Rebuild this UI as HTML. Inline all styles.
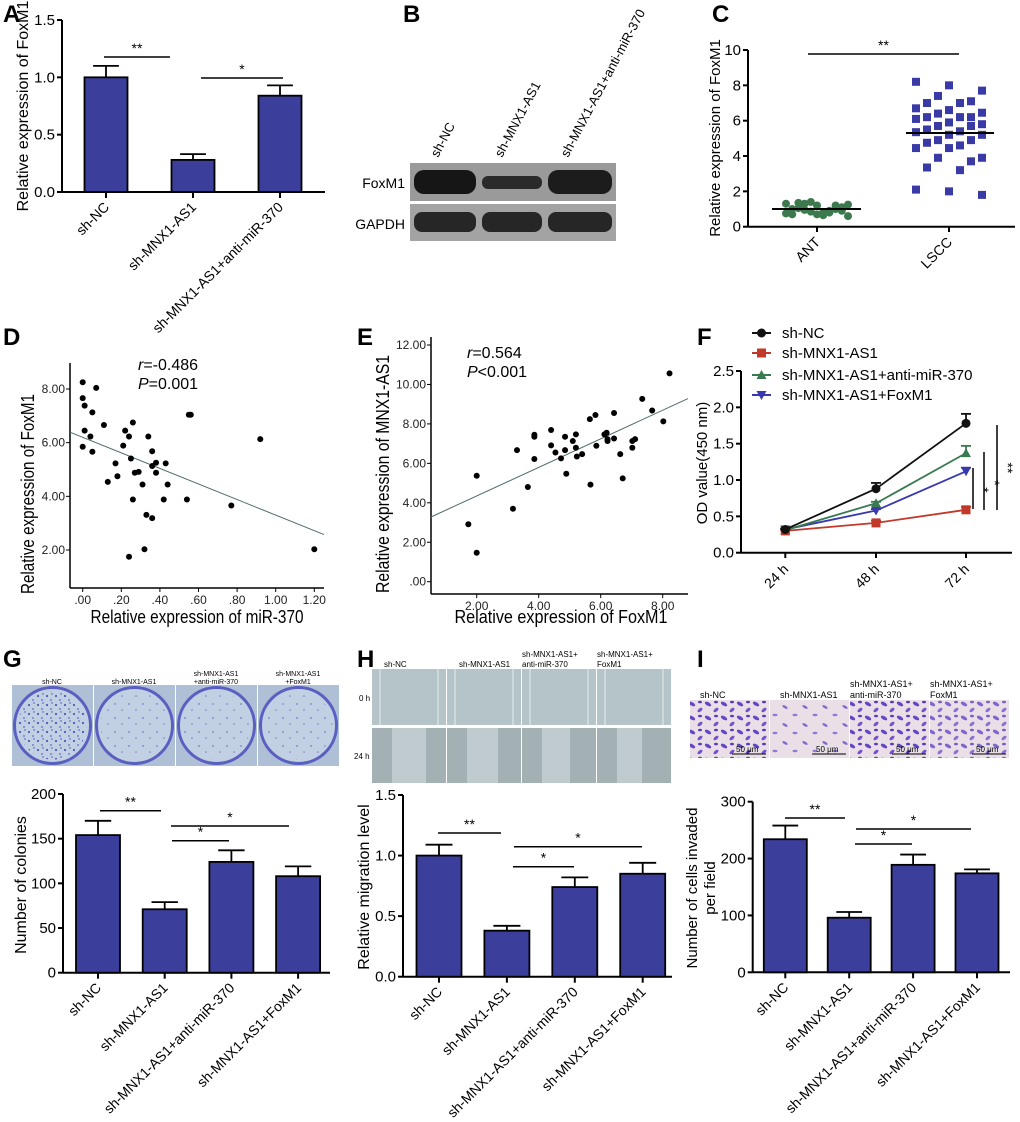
<!DOCTYPE html>
<html><head><meta charset="utf-8"><style>
html,body{margin:0;padding:0;background:#fff;}
svg{display:block;font-family:"Liberation Sans",Arial,sans-serif;}
</style></head><body>
<svg id="fig" width="1020" height="1122" viewBox="0 0 1020 1122" xmlns="http://www.w3.org/2000/svg">
<defs>
<pattern id="colPat" width="9" height="9" patternUnits="userSpaceOnUse"><circle cx="2" cy="3" r="1.1" fill="#4a48b0"/><circle cx="6" cy="7" r="0.9" fill="#5a58c0"/><circle cx="7" cy="1" r="0.7" fill="#3d3aa8"/></pattern>
<pattern id="colPatSparse" width="14" height="14" patternUnits="userSpaceOnUse"><circle cx="3" cy="4" r="0.9" fill="#5a58c0"/><circle cx="10" cy="10" r="0.8" fill="#5a58c0"/></pattern>
<pattern id="cellPat" width="16" height="14" patternUnits="userSpaceOnUse"><ellipse cx="4" cy="4" rx="3.5" ry="1.8" fill="#5b3fc4" transform="rotate(30 4 4)"/><ellipse cx="12" cy="10" rx="3" ry="1.6" fill="#6a4ccc" transform="rotate(-40 12 10)"/><ellipse cx="12" cy="2" rx="2" ry="1.3" fill="#4b35b0"/></pattern>
<pattern id="cellPatSparse" width="20" height="18" patternUnits="userSpaceOnUse"><ellipse cx="5" cy="5" rx="3" ry="1.3" fill="#7a66cc" transform="rotate(30 5 5)"/><ellipse cx="15" cy="13" rx="2.5" ry="1.2" fill="#8676d2"/></pattern>
</defs>
<g id="root"></g>
</svg>
<script>
// ---------- DATA ----------
const aCats = ["sh-NC","sh-MNX1-AS1","sh-MNX1-AS1+anti-miR-370"];
const aVals = [1.0, 0.28, 0.84];
const aErrs = [0.10, 0.05, 0.09];
const aTicks = ["0.0","0.5","1.0","1.5"];

const cCats = ["ANT","LSCC"];
const cAnt = [1.3,1.2,1.25,1.4,1.1,1.3,1.2,1.35,0.9,1.0,0.8,0.75,0.7,0.6,0.85,0.9,0.95,1.0,1.05,0.8,0.7,0.65];
const cLscc = [8.2,8.0,7.7,7.4,7.1,7.0,7.0,6.7,6.6,6.45,6.4,6.2,6.2,6.2,6.1,5.9,5.8,5.7,5.7,5.5,5.4,5.35,5.2,5.2,4.9,4.9,4.75,4.6,4.45,4.45,3.9,3.9,3.7,3.35,3.2,2.1,2.0,1.8];
const cMeans = [1.0, 5.3];
const cTicks = ["0","2","4","6","8","10"];

const dX = [0.00,0.00,0.01,0.07,0.05,0.11,0.01,0.04,0.00,0.05,0.22,0.24,0.26,0.21,0.17,0.18,0.13,0.25,0.27,0.29,0.34,0.36,0.36,0.38,0.38,0.43,0.44,0.31,0.26,0.42,0.33,0.36,0.32,0.24,0.54,0.55,0.56,0.77,0.92,1.20];
const dY = [8.25,7.66,7.38,8.04,7.13,6.66,6.45,6.23,5.85,5.66,6.45,6.23,6.75,5.89,5.23,4.75,4.54,5.41,4.88,4.91,6.23,5.68,5.13,5.25,4.88,5.23,4.44,4.44,3.88,3.88,3.31,3.19,2.03,1.75,3.88,7.04,7.04,3.66,6.13,2.03];
const dFit = [6.2, -2.9];
const dXTicks = [".00",".20",".40",".60",".80","1.00","1.20"];
const dYTicks = ["2.00","4.00","6.00","8.00"];

const eX = [1.73,2.0,2.0,3.17,3.30,3.65,3.86,3.86,3.86,4.40,4.40,4.54,4.72,4.85,4.85,4.89,5.10,5.20,5.20,5.23,5.40,5.65,5.83,5.67,5.86,6.12,6.19,6.22,6.22,6.43,6.43,6.63,6.71,7.02,7.02,7.11,7.34,7.66,8.02,8.22];
const eY = [2.91,1.47,5.37,3.70,6.67,4.80,7.45,7.35,6.22,7.69,6.91,6.55,6.25,7.35,6.67,5.47,7.13,7.47,6.79,6.35,6.47,8.24,8.45,4.92,6.89,7.47,7.55,7.23,7.13,7.26,8.55,6.47,5.24,6.79,7.13,7.23,9.27,8.68,8.13,10.56];
const eFit = [2.90, 0.724];
const eXTicks = ["2.00","4.00","6.00","8.00"];
const eYTicks = [".00","2.00","4.00","6.00","8.00","10.00","12.00"];

const fTimes = ["24 h","48 h","72 h"];
const fSeries = ["sh-NC","sh-MNX1-AS1","sh-MNX1-AS1+anti-miR-370","sh-MNX1-AS1+FoxM1"];
const fNC = [0.32,0.88,1.78];
const fSh = [0.30,0.41,0.59];
const fAnti = [0.31,0.68,1.37];
const fFox = [0.32,0.58,1.12];
const fNCErr = [0.01,0.08,0.13];
const fShErr = [0.01,0.03,0.04];
const fAntiErr = [0.01,0.02,0.10];
const fFoxErr = [0.01,0.02,0.05];
const fTicks = ["0.0","0.5","1.0","1.5","2.0","2.5"];

const g4Cats = ["sh-NC","sh-MNX1-AS1","sh-MNX1-AS1+anti-miR-370","sh-MNX1-AS1+FoxM1"];
const gVals = [154,71,124,108];
const gErrs = [16,8,13,11];
const gTicks = ["0","50","100","150","200"];
const hVals = [1.0,0.38,0.74,0.85];
const hErrs = [0.09,0.04,0.08,0.09];
const hTicks = ["0.0","0.5","1.0","1.5"];
const iVals = [234,96,189,174];
const iErrs = [24,10,18,7];
const iTicks = ["0","100","200","300"];

// ---------- HELPERS ----------
const NS="http://www.w3.org/2000/svg";
const root=document.getElementById('root');
function el(tag,attrs,parent,text){const e=document.createElementNS(NS,tag);for(const k in attrs)e.setAttribute(k,attrs[k]);if(text!==undefined)e.textContent=text;(parent||root).appendChild(e);return e;}
function line(x1,y1,x2,y2,p,w,c){return el('line',{x1,y1,x2,y2,stroke:c||'#000','stroke-width':w||1.5},p);}
function letter(ch,x,y){const t=el('text',{x,y,'font-size':24,'font-weight':'bold'},root,ch);

}
function lin(d0,d1,p0,p1){return v=>p0+(v-d0)*(p1-p0)/(d1-d0);}
function sig(g,x1,x2,y,txt){line(x1,y,x2,y,g,1.5);el('text',{x:(x1+x2)/2,y:y-4,'text-anchor':'middle','font-size':14},g,txt);}

function barChart(cfg){
  const g=el('g',{});
  
  
  const y=lin(cfg.ymin,cfg.ymax,cfg.y0,cfg.y1);
  line(cfg.ax,cfg.y1,cfg.ax,cfg.y0,g,2);
  cfg.ticks.forEach(t=>{const v=parseFloat(t);const yy=y(v);line(cfg.ax-5,yy,cfg.ax,yy,g,2);
    const tl=el('text',{x:cfg.ax-7,y:yy+5,'text-anchor':'end','font-size':cfg.tfs||15},g,t);
    
    });
  line(cfg.ax,cfg.y0,cfg.xend,cfg.y0,g,2);
  cfg.vals.forEach((v,i)=>{const cx=cfg.cx0+i*cfg.step;const top=y(v);
    const r=el('rect',{x:cx-cfg.bw/2,y:top,width:cfg.bw,height:cfg.y0-top,fill:'#3b3e9b',stroke:'#000','stroke-width':1.8},g);
    
    
    const ey=y(v+cfg.errs[i]);line(cx,top,cx,ey,g,1.8);line(cx-cfg.bw*0.3,ey,cx+cfg.bw*0.3,ey,g,1.8);
    line(cx,cfg.y0,cx,cfg.y0+6,g,2);
    const lb=el('text',{x:cx+4,y:cfg.y0+16,'text-anchor':'end','font-size':cfg.lfs||14,transform:`rotate(-45 ${cx+4} ${cfg.y0+16})`},g,cfg.cats[i]);
    
    
  });
  (cfg.titles).forEach((t,k)=>{const tx=cfg.tx+k*18;const tt=el('text',{x:tx,y:cfg.ty,'text-anchor':'middle','font-size':cfg.yfs||16,transform:`rotate(-90 ${tx} ${cfg.ty})`},g,t);
    
    });
  cfg.sigs.forEach(s=>sig(g,s[0],s[1],s[2],s[3]));
  return g;
}

// ---------- PANEL A ----------
letter('A',3,22);
barChart({name:'panel-a-chart',ymin:0,ymax:1.5,y0:192,y1:20,ax:62,xend:325,cx0:106,step:87,bw:43,vals:aVals,errs:aErrs,cats:aCats,ticks:aTicks,titles:['Relative expression of FoxM1'],tx:28,ty:106,sigs:[[104,170,57,'**'],[201,283,78,'*']]});

// ---------- PANEL B (western blot) ----------
letter('B',403,22);
(function(){
  const g=el('g',{});
  
  
  const labs=["sh-NC","sh-MNX1-AS1","sh-MNX1-AS1+anti-miR-370"];const lx=[438,502,568];
  labs.forEach((t,i)=>{const tt=el('text',{x:lx[i],y:158,'font-size':13,transform:`rotate(-62 ${lx[i]} 158)`},g,t);
    
    });
  el('rect',{x:410,y:163,width:206,height:38,fill:'#9a9a9a'},g);
  el('rect',{x:410,y:204,width:206,height:37,fill:'#a3a3a3'},g);
  el('rect',{x:414,y:170,width:62,height:24,rx:10,fill:'#161616'},g);
  el('rect',{x:482,y:176,width:60,height:13,rx:6,fill:'#2a2a2a'},g);
  el('rect',{x:548,y:170,width:64,height:24,rx:10,fill:'#1c1c1c'},g);
  el('rect',{x:414,y:212,width:62,height:20,rx:8,fill:'#262626'},g);
  el('rect',{x:482,y:212,width:60,height:20,rx:8,fill:'#262626'},g);
  el('rect',{x:548,y:212,width:64,height:20,rx:8,fill:'#262626'},g);
  el('text',{x:405,y:188,'text-anchor':'end','font-size':14},g,'FoxM1');
  el('text',{x:405,y:229,'text-anchor':'end','font-size':14},g,'GAPDH');
})();

// ---------- PANEL C ----------
letter('C',712,22);
(function(){
  const g=el('g',{});
  
  
  const y=lin(0,10,226.7,50);const ax=748;
  line(ax,50,ax,226.7,g,2);line(ax,226.7,1015,226.7,g,2);
  cTicks.forEach(t=>{const yy=y(+t);line(ax-5,yy,ax,yy,g,2);el('text',{x:ax-7,y:yy+5,'text-anchor':'end','font-size':15},g,t);});
  const cxs=[817,949];
  cCats.forEach((c,i)=>{line(cxs[i],226.7,cxs[i],232,g,2);
    const t=el('text',{x:cxs[i]+4,y:243,'text-anchor':'end','font-size':14,transform:`rotate(-45 ${cxs[i]+4} 243)`},g,c);
    
    });
  cAnt.forEach((v,i)=>{const dx=((i*5)%11-5)*6.2;
    const c=el('circle',{cx:cxs[0]+dx,cy:y(v),r:4,fill:'#3c7a4e'},g);
    
    });
  cLscc.forEach((v,i)=>{const dx=((i*3)%7-3)*11;
    const r=el('rect',{x:cxs[1]+dx-4,y:y(v)-4,width:8,height:8,fill:'#3a3aa6'},g);
    
    });
  line(772,y(cMeans[0]),861,y(cMeans[0]),g,2);
  line(906,y(cMeans[1]),994,y(cMeans[1]),g,2);
  sig(g,808,959,54,'**');
  const tt=el('text',{x:720,y:138,'text-anchor':'middle','font-size':15,transform:'rotate(-90 720 138)'},g,'Relative expression of FoxM1');
  
  
})();

// ---------- SCATTER D / E ----------
function regScatter(cfg){
  const g=el('g',{});
  
  
  const x=lin(cfg.xd[0],cfg.xd[1],cfg.xp[0],cfg.xp[1]);const y=lin(cfg.yd[0],cfg.yd[1],cfg.yp[0],cfg.yp[1]);
  line(cfg.ax,cfg.top,cfg.ax,cfg.ay,g,1.5);line(cfg.ax,cfg.ay,cfg.xend,cfg.ay,g,1.5);
  cfg.yt.forEach(t=>{const yy=y(parseFloat(t));line(cfg.ax-4,yy,cfg.ax,yy,g,1);el('text',{x:cfg.ax-5,y:yy+4,'text-anchor':'end','font-size':12,fill:'#222'},g,t);});
  cfg.xt.forEach(t=>{const xx=x(parseFloat(t));line(xx,cfg.ay,xx,cfg.ay+4,g,1);el('text',{x:xx,y:cfg.ay+16,'text-anchor':'middle','font-size':12,fill:'#222'},g,t);});
  const xa=cfg.xinv(cfg.ax),xb=cfg.xinv(cfg.xend);
  line(cfg.ax,y(cfg.fit[0]+cfg.fit[1]*xa),cfg.xend,y(cfg.fit[0]+cfg.fit[1]*xb),g,1,'#4f6b6b');
  cfg.X.forEach((v,i)=>{const c=el('circle',{cx:x(v),cy:y(cfg.Y[i]),r:3,fill:'#000'},g);
    
    });
  const s1=el('text',{x:cfg.sx,y:cfg.sy,'font-size':16},g);el('tspan',{'font-style':'italic'},s1,'r');el('tspan',{},s1,cfg.s1);
  const s2=el('text',{x:cfg.sx,y:cfg.sy+19,'font-size':16},g);el('tspan',{'font-style':'italic'},s2,'P');el('tspan',{},s2,cfg.s2);
  const xt=el('text',{x:cfg.xtx,y:cfg.xty,'text-anchor':'middle','font-size':18,textLength:213,lengthAdjust:'spacingAndGlyphs'},g,cfg.xtitle);
  
  
  const yt=el('text',{x:cfg.ytx,y:cfg.yty,'text-anchor':'middle','font-size':18,textLength:cfg.ytl,lengthAdjust:'spacingAndGlyphs',transform:`rotate(-90 ${cfg.ytx} ${cfg.yty})`},g,cfg.ytitle);
  
  
}
letter('D',3,345);
regScatter({name:'panel-d-scatter',X:dX,Y:dY,fit:dFit,xd:[0,1.2],xp:[82.7,314.3],yd:[2,8],yp:[550,389],ax:70,ay:588,top:363,xend:324,
  xinv:p=>(p-82.7)/(314.3-82.7)*1.2,xt:dXTicks,yt:dYTicks,sx:138,sy:370,s1:'=-0.486',s2:'=0.001',
  xtitle:'Relative expression of miR-370',xtx:197,xty:623,ytitle:'Relative expression of FoxM1',ytx:34,yty:494,ytl:200});
letter('E',357,345);
regScatter({name:'panel-e-scatter',X:eX,Y:eY,fit:eFit,xd:[2,8],xp:[476.7,662.7],yd:[0,12],yp:[581.7,345],ax:431,ay:594,top:337,xend:688,
  xinv:p=>2+(p-476.7)/31,xt:eXTicks,yt:eYTicks,sx:467,sy:358,s1:'=0.564',s2:'<0.001',
  xtitle:'Relative expression of FoxM1',xtx:561,xty:623,ytitle:'Relative expression of MNX1-AS1',ytx:389,yty:474,ytl:238});

// ---------- PANEL F ----------
letter('F',697,345);
(function(){
  const g=el('g',{});
  
  
  const y=lin(0,2.5,552.7,371);const ax=741;const xs=[785.3,876,966];
  line(ax,371,ax,552.7,g,2);line(ax,552.7,1012,552.7,g,2);
  fTicks.forEach(t=>{const yy=y(+t);line(ax-5,yy,ax,yy,g,2);el('text',{x:ax-7,y:yy+5,'text-anchor':'end','font-size':15},g,t);});
  fTimes.forEach((t,i)=>{line(xs[i],552.7,xs[i],558,g,2);el('text',{x:xs[i]+4,y:570,'text-anchor':'end','font-size':14,transform:`rotate(-45 ${xs[i]+4} 570)`},g,t);});
  const series=[[fNC,fNCErr,'#111','circle'],[fSh,fShErr,'#c0392b','square'],[fAnti,fAntiErr,'#3a7a50','tri'],[fFox,fFoxErr,'#3838b0','itri']];
  function marker(gg,x0,y0,shape,c){
    if(shape==='circle')return el('circle',{cx:x0,cy:y0,r:4.5,fill:c},gg);
    if(shape==='square')return el('rect',{x:x0-4.5,y:y0-4.5,width:9,height:9,fill:c},gg);
    if(shape==='tri')return el('polygon',{points:`${x0},${y0-5} ${x0-5},${y0+4} ${x0+5},${y0+4}`,fill:c},gg);
    return el('polygon',{points:`${x0},${y0+5} ${x0-5},${y0-4} ${x0+5},${y0-4}`,fill:c},gg);
  }
  series.slice().reverse().forEach(s=>{
    const pts=s[0].map((v,i)=>xs[i]+','+y(v)).join(' ');
    const pl=el('polyline',{points:pts,fill:'none',stroke:s[2],'stroke-width':1.8},g);
    
    
    s[0].forEach((v,i)=>{const ey=y(v+s[1][i]);line(xs[i],y(v),xs[i],ey,g,1.8,s[2]);line(xs[i]-5,ey,xs[i]+5,ey,g,1.8,s[2]);
      const m=marker(g,xs[i],y(v),s[3],s[2]);
      
      });
  });
  const ly=[333,353,375,395];
  fSeries.forEach((n,i)=>{const lg=el('g',{},g);
    
    
    line(752,ly[i],771,ly[i],lg,2,series[i][2]);marker(lg,761.5,ly[i],series[i][3],series[i][2]);
    el('text',{x:782,y:ly[i]+5,'font-size':15},lg,n);});
  line(973,468,973,509,g,1.5);line(984,452,984,510,g,1.5);line(997,425,997,510,g,1.5);
  el('text',{x:979,y:490,'font-size':14,transform:'rotate(90 979 490)','text-anchor':'middle'},g,'*');
  el('text',{x:990,y:483,'font-size':14,transform:'rotate(90 990 483)','text-anchor':'middle'},g,'*');
  el('text',{x:1003,y:468,'font-size':14,transform:'rotate(90 1003 468)','text-anchor':'middle'},g,'**');
  const yt=el('text',{x:707,y:463,'text-anchor':'middle','font-size':15,transform:'rotate(-90 707 463)'},g,'OD value(450 nm)');
  
  
})();

// ---------- PANEL G ----------
letter('G',3,667);
(function(){
  const g=el('g',{});
  
  
  const labs=[["sh-NC"],["sh-MNX1-AS1"],["sh-MNX1-AS1","+anti-miR-370"],["sh-MNX1-AS1","+FoxM1"]];
  const fills=['url(#colPat)','url(#colPatSparse)','url(#colPatSparse)','url(#colPatSparse)'];
  for(let i=0;i<4;i++){const x0=12+i*82;
    el('rect',{x:x0,y:685,width:81,height:81,fill:'#aebfd6'},g);
    el('circle',{cx:x0+40.5,cy:725.5,r:38,fill:'#c2d0e4',stroke:'#5a5fc0','stroke-width':3},g);
    el('circle',{cx:x0+40.5,cy:725.5,r:34,fill:fills[i],opacity:i===0?0.9:0.7},g);
    labs[i].forEach((t,k)=>el('text',{x:x0+40,y:684-(labs[i].length-1-k)*8,'text-anchor':'middle','font-size':7},g,t));
  }
})();
barChart({name:'panel-g-chart',ymin:0,ymax:200,y0:972.7,y1:794,ax:63,xend:330,cx0:98,step:66.7,bw:44,vals:gVals,errs:gErrs,cats:g4Cats,ticks:gTicks,titles:['Number of colonies'],tx:26,ty:885,sigs:[[100,161,810.7,'**'],[171,289,826,'*'],[172,229,840.7,'*']]});

// ---------- PANEL H ----------
letter('H',357,667);
(function(){
  const g=el('g',{});
  
  
  const labs=[["sh-NC"],["sh-MNX1-AS1"],["sh-MNX1-AS1+","anti-miR-370"],["sh-MNX1-AS1+","FoxM1"]];
  for(let i=0;i<4;i++){const x0=372+i*75;
    el('rect',{x:x0,y:669,width:74,height:56,fill:'#b4c4c9'},g);
    el('rect',{x:x0,y:728,width:74,height:55,fill:'#a3b1b5'},g);
    el('rect',{x:x0+20,y:728,width:34-i*3,height:55,fill:'#bfcbce'},g);
    line(x0+8,669,x0+8,725,g,1,'#e8eeee');line(x0+66,669,x0+66,725,g,1,'#e8eeee');
    labs[i].forEach((t,k)=>el('text',{x:x0+(labs[i].length>1?0:12),y:667-(labs[i].length-1-k)*10,'font-size':8},g,t));
  }
  el('text',{x:359,y:701,'font-size':8},g,'0 h');
  el('text',{x:354,y:759,'font-size':8},g,'24 h');
})();
barChart({name:'panel-h-chart',ymin:0,ymax:1.5,y0:976.7,y1:795,ax:403,xend:672,cx0:439,step:67.9,bw:45,vals:hVals,errs:hErrs,cats:g4Cats,ticks:hTicks,titles:['Relative migration level'],tx:369,ty:887,sigs:[[438,501,833,'**'],[514,642,846.7,'*'],[513,574,866.7,'*']]});

// ---------- PANEL I ----------
letter('I',697,667);
(function(){
  const g=el('g',{});
  
  
  const labs=[["sh-NC"],["sh-MNX1-AS1"],["sh-MNX1-AS1+","anti-miR-370"],["sh-MNX1-AS1+","FoxM1"]];
  const fills=['url(#cellPat)','url(#cellPatSparse)','url(#cellPat)','url(#cellPat)'];
  for(let i=0;i<4;i++){const x0=690+i*80;
    el('rect',{x:x0,y:700,width:79,height:58,fill:'#eadfe6'},g);
    el('rect',{x:x0,y:700,width:79,height:58,fill:fills[i],opacity:i===3?0.75:0.95},g);
    line(x0+42,754,x0+76,754,g,1);
    el('text',{x:x0+46,y:752,'font-size':8},g,'50 μm');
    labs[i].forEach((t,k)=>el('text',{x:x0+(labs[i].length>1?0:10),y:698-(labs[i].length-1-k)*11,'font-size':9},g,t));
  }
})();
barChart({name:'panel-i-chart',ymin:0,ymax:300,y0:972.3,y1:801.7,ax:752.7,xend:1010,cx0:785.3,step:63.9,bw:43,vals:iVals,errs:iErrs,cats:g4Cats,ticks:iTicks,titles:['Number of cells invaded','per field'],tx:697,ty:888,yfs:15,sigs:[[785,845,818,'**'],[856,971,829,'*'],[855,912,844,'*']]});
</script>
</body></html>
